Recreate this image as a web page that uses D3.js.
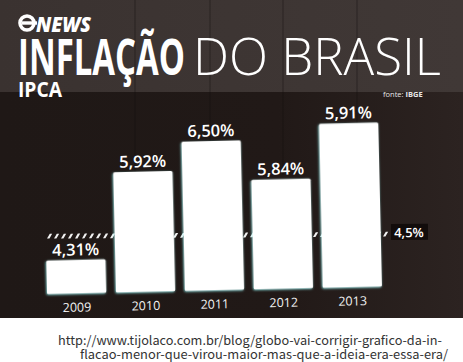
<!DOCTYPE html>
<html><head><meta charset="utf-8">
<script src="https://cdn.jsdelivr.net/npm/d3@7/dist/d3.min.js"></script>
<style>html,body{margin:0;padding:0;background:#fff;}svg{display:block;}</style>
</head><body>
<script>
// ---- data ----
const years = ["2009", "2010", "2011", "2012", "2013"];
const printedValues = [4.31, 5.92, 6.50, 5.84, 5.91];      // values printed on the bars
const printedLabels = ["4,31%", "5,92%", "6,50%", "5,84%", "5,91%"];
const drawnValues = [4.31, 5.95, 6.50, 5.75, 6.78];         // bar heights as the graphic drew them
const targetLabel = "4,5%";
const targetDrawn = 4.72;                                   // level at which the 4,5% target line was drawn
const titleBold = "INFLAÇÃO";
const titleLight = "DO BRASIL";
const subtitle = "IPCA";
const sourceLabel = ["fonte: ", "IBGE"];
const urlLines = ["http://www.tijolaco.com.br/blog/globo-vai-corrigir-grafico-da-in-",
                  "flacao-menor-que-virou-maior-mas-que-a-ideia-era-essa-era/"];

const W = 463, H = 362, photoH = 318;
const svg = d3.select("body").append("svg").attr("width", W).attr("height", H);
const defs = svg.append("defs");

const gBg = defs.append("linearGradient").attr("id", "bgLow").attr("x1", 0).attr("x2", 1).attr("y1", 0).attr("y2", 0);
gBg.append("stop").attr("offset", 0).attr("stop-color", "#1f1816");
gBg.append("stop").attr("offset", 0.6).attr("stop-color", "#211917");
gBg.append("stop").attr("offset", 1).attr("stop-color", "#2c2321");
const gTop = defs.append("linearGradient").attr("id", "bgTop").attr("x1", 0).attr("x2", 1).attr("y1", 0).attr("y2", 0);
gTop.append("stop").attr("offset", 0).attr("stop-color", "#3a3230");
gTop.append("stop").attr("offset", 1).attr("stop-color", "#403836");

const glow = defs.append("filter").attr("id", "glow").attr("x", "-20%").attr("y", "-20%").attr("width", "140%").attr("height", "140%");
glow.append("feDropShadow").attr("dx", -0.6).attr("dy", 0.8).attr("stdDeviation", 1.2).attr("flood-color", "#8ff4f4").attr("flood-opacity", 0.9);

// photo background
svg.append("rect").attr("x", 0).attr("y", 0).attr("width", W).attr("height", photoH).attr("fill", "url(#bgLow)");
svg.append("rect").attr("x", 0).attr("y", 0).attr("width", W).attr("height", 92).attr("fill", "url(#bgTop)");
// studio frame seams
[135, 210, 283, 357].forEach(x => {
  svg.append("line").attr("x1", x).attr("x2", x).attr("y1", 0).attr("y2", 175)
    .attr("stroke", "#151010").attr("stroke-opacity", 0.45).attr("stroke-width", 1);
});

const font = "'Open Sans', 'DejaVu Sans', sans-serif";

// logo
const logo = svg.append("g");
logo.append("circle").attr("cx", 27).attr("cy", 23).attr("r", 7).attr("fill", "none").attr("stroke", "#fff").attr("stroke-width", 3.6);
logo.append("rect").attr("x", 22).attr("y", 21.3).attr("width", 15).attr("height", 3.4).attr("fill", "#fff");
logo.append("text").attr("x", 36).attr("y", 31.5).attr("font-family", font).attr("font-weight", 800)
  .attr("font-style", "italic").attr("font-size", 21).attr("fill", "#fff").attr("textLength", 55)
  .attr("lengthAdjust", "spacingAndGlyphs").text("NEWS");

// title
svg.append("text").attr("x", 18).attr("y", 75).attr("font-family", font).attr("font-weight", 700)
  .attr("font-size", 51).attr("fill", "#fff").attr("textLength", 167).attr("lengthAdjust", "spacingAndGlyphs").text(titleBold);
svg.append("text").attr("x", 193).attr("y", 75).attr("font-family", font).attr("font-weight", 300)
  .attr("font-size", 52).attr("fill", "#fff").attr("textLength", 248).attr("lengthAdjust", "spacingAndGlyphs").text(titleLight);
svg.append("text").attr("x", 18).attr("y", 96.5).attr("font-family", font).attr("font-weight", 700)
  .attr("font-size", 22).attr("fill", "#fff").attr("textLength", 44).attr("lengthAdjust", "spacingAndGlyphs").text(subtitle);
const src = svg.append("text").attr("x", 383).attr("y", 97).attr("font-family", font).attr("font-size", 7.5).attr("fill", "#e8e8e8");
src.append("tspan").text(sourceLabel[0]);
src.append("tspan").attr("font-weight", 700).text(sourceLabel[1]);

// scales
const baseY = 290.2;
const x = d3.scaleBand().domain(years).range([47, 382]).paddingInner(0.14).paddingOuter(0);
const y = d3.scaleLinear().domain([3.68, 6.50]).range([baseY, 141]);

// target line (behind bars): hatched slashes
const gT = svg.append("g").attr("transform", "rotate(-0.35, 215, 235)");
const ty = y(targetDrawn);
const hx0 = x("2009"), hx1 = 392;
gT.selectAll("path.slash").data(d3.range(hx0, hx1 - 3, 7)).join("path").attr("class", "slash")
  .attr("d", d => `M${d},${ty + 2.4} L${d + 2.4},${ty + 2.4} L${d + 5.2},${ty - 2.4} L${d + 2.8},${ty - 2.4} Z`)
  .attr("fill", "#f2f2f2");
gT.append("rect").attr("x", 391).attr("y", ty - 10).attr("width", 37).attr("height", 16).attr("fill", "#120c0b");
gT.append("text").attr("x", 409).attr("y", ty + 3.2).attr("text-anchor", "middle").attr("font-family", font)
  .attr("font-weight", 600).attr("font-size", 13).attr("fill", "#fff").text(targetLabel);

// bars
const g = svg.append("g").attr("transform", "rotate(-1.3, 215, 290)");
const data = years.map((yr, i) => ({ yr, v: printedValues[i], d: drawnValues[i], label: printedLabels[i] }));
g.selectAll("rect.bar").data(data).join("rect").attr("class", "bar")
  .attr("x", d => x(d.yr)).attr("y", d => y(d.d)).attr("width", x.bandwidth())
  .attr("height", d => baseY - y(d.d)).attr("rx", 1.5).attr("fill", "#ffffff").attr("filter", "url(#glow)");
g.selectAll("text.val").data(data).join("text").attr("class", "val")
  .attr("x", d => x(d.yr) + x.bandwidth() / 2).attr("y", d => y(d.d) - 4.5)
  .attr("text-anchor", "middle").attr("font-family", font).attr("font-weight", 600)
  .attr("font-size", 16.5).attr("fill", "#fff").text(d => d.label);
g.selectAll("text.yr").data(data).join("text").attr("class", "yr")
  .attr("x", d => x(d.yr) + x.bandwidth() / 2).attr("y", baseY + 18.3)
  .attr("text-anchor", "middle").attr("font-family", font).attr("font-size", 12.5).attr("fill", "#f2f2f2").text(d => d.yr);

// url caption
svg.append("text").attr("x", 58).attr("y", 345).attr("font-family", "'Noto Sans CJK JP', 'Noto Sans', sans-serif")
  .attr("font-size", 12.5).attr("fill", "#333").attr("textLength", 384).attr("lengthAdjust", "spacingAndGlyphs").text(urlLines[0]);
svg.append("text").attr("x", 80).attr("y", 359).attr("font-family", "'Noto Sans CJK JP', 'Noto Sans', sans-serif")
  .attr("font-size", 12.5).attr("fill", "#333").attr("textLength", 368).attr("lengthAdjust", "spacingAndGlyphs").text(urlLines[1]);
</script>
</body></html>
